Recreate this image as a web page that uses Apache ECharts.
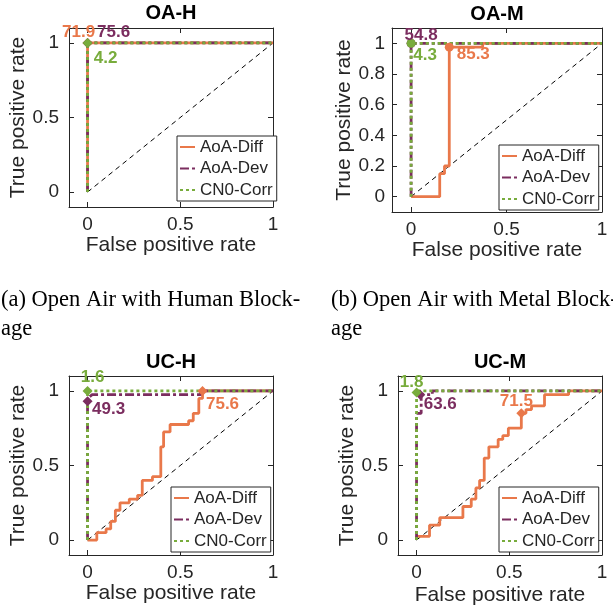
<!DOCTYPE html>
<html><head><meta charset="utf-8">
<script src="https://cdn.jsdelivr.net/npm/echarts@6/dist/echarts.min.js"></script>
<style>html,body{margin:0;padding:0;background:#fff}#c{width:613px;height:611px}</style>
</head><body><div id="c"></div>
<script>
// ---------------- DATA ----------------
const seriesNames = ['AoA-Diff', 'AoA-Dev', 'CN0-Corr'];
const panelTitles = ['OA-H', 'OA-M', 'UC-H', 'UC-M'];
const captionA = ['(a) Open Air with Human Block-', 'age'];
const captionB = ['(b) Open Air with Metal Block-', 'age'];
const xTickValues = [0, 0.5, 1];
const yTickCoarse = [0, 0.5, 1];
const yTickFine = [0, 0.2, 0.4, 0.6, 0.8, 1];
const diagFpr = [0, 1];
const diagTpr = [0, 1];
const xAxisName = 'False positive rate';
const yAxisName = 'True positive rate';

// OA-H
const ohDiffFpr = [0, 0, 1];           const ohDiffTpr = [0, 1, 1];
const ohDevFpr  = [0, 0, 1];           const ohDevTpr  = [0, 1, 1];
const ohCn0Fpr  = [0, 0, 1];           const ohCn0Tpr  = [0, 1, 1];
const ohMarkFpr = [0, 0, 0];           const ohMarkTpr = [1, 1, 1];
const ohMarkText = ['71.9', '75.6', '4.2'];

// OA-M
const omDiffFpr = [0, 0.15, 0.175, 0.2, 0.375, 1];
const omDiffTpr = [0, 0.15, 0.2, 0.975, 1, 1];
const omDevFpr  = [0, 0, 1];           const omDevTpr  = [0, 1, 1];
const omCn0Fpr  = [0, 0, 1];           const omCn0Tpr  = [0, 1, 1];
const omMarkFpr = [0.2, 0, 0];         const omMarkTpr = [0.975, 1, 1];
const omMarkText = ['85.3', '54.8', '4.3'];

// UC-H
const uhDiffFpr = [0, 0.05, 0.1, 0.125, 0.15, 0.175, 0.225, 0.27, 0.295, 0.35, 0.395, 0.41, 0.445, 0.545, 0.57, 0.6, 0.62, 1];
const uhDiffTpr = [0, 0.05, 0.075, 0.125, 0.2, 0.25, 0.275, 0.3, 0.4, 0.425, 0.625, 0.725, 0.775, 0.8, 0.85, 0.95, 1, 1];
const uhDevFpr  = [0, 0, 0.01, 0.025, 0.61, 0.61, 1];
const uhDevTpr  = [0, 0.93, 0.96, 0.975, 0.975, 1, 1];
const uhCn0Fpr  = [0, 0, 1];           const uhCn0Tpr  = [0, 1, 1];
const uhMarkFpr = [0.62, 0, 0];        const uhMarkTpr = [1, 0.93, 1];
const uhMarkText = ['75.6', '49.3', '1.6'];

// UC-M
const umDiffFpr = [0, 0, 0.07, 0.125, 0.25, 0.295, 0.32, 0.34, 0.365, 0.39, 0.44, 0.465, 0.495, 0.565, 0.59, 0.62, 0.69, 0.82, 1];
const umDiffTpr = [0, 0.025, 0.1, 0.15, 0.225, 0.275, 0.35, 0.4, 0.55, 0.625, 0.675, 0.7, 0.75, 0.85, 0.875, 0.9, 0.975, 1, 1];
const umDevFpr  = [0, 0, 0.025, 0.025, 0.085, 0.085, 1];
const umDevTpr  = [0, 0.85, 0.85, 0.975, 0.975, 1, 1];
const umCn0Fpr  = [0, 0, 1];           const umCn0Tpr  = [0, 1, 1];
const umMarkFpr = [0.565, 0.02, 0];    const umMarkTpr = [0.85, 0.975, 0.99];
const umMarkText = ['71.5', '63.6', '1.8'];

// ---------------- LAYOUT / STYLE ----------------
const FONT = 'Liberation Sans';
const TXT = '#262626';
const colors = ['#E9784A', '#7B2D5F', '#78AC3C'];
const lineTypes = ['solid', [9, 3, 3, 3], [3, 3]];

const panels = [
  { grid: {left: 69, top: 28, width: 204, height: 179}, yTicks: yTickCoarse, yNameGap: 36, yLabelMargin: 10, xNameGap: 27,
    legend: {left: 177, top: 136}, titleY: 13, symbol: 'diamond', symSize: 10,
    curves: [[ohDiffFpr, ohDiffTpr], [ohDevFpr, ohDevTpr], [ohCn0Fpr, ohCn0Tpr]],
    marks: [ohMarkFpr, ohMarkTpr, ohMarkText], offsets: [[-9, -11], [26, -11], [18, 15]] },
  { grid: {left: 392, top: 28, width: 210, height: 184}, yTicks: yTickFine, yNameGap: 30, yLabelMargin: 7, xNameGap: 26,
    legend: {left: 499, top: 145}, titleY: 14, symbol: 'circle', symSize: 9,
    curves: [[omDiffFpr, omDiffTpr], [omDevFpr, omDevTpr], [omCn0Fpr, omCn0Tpr]],
    marks: [omMarkFpr, omMarkTpr, omMarkText], offsets: [[24, 7], [10, -8], [14, 12]] },
  { grid: {left: 69, top: 376, width: 204, height: 179}, yTicks: yTickCoarse, yNameGap: 34, yLabelMargin: 10, xNameGap: 27,
    legend: {left: 171, top: 487}, titleY: 362, symbol: 'diamond', symSize: 10,
    curves: [[uhDiffFpr, uhDiffTpr], [uhDevFpr, uhDevTpr], [uhCn0Fpr, uhCn0Tpr]],
    marks: [uhMarkFpr, uhMarkTpr, uhMarkText], offsets: [[20, 13], [21, 8], [5, -14]] },
  { grid: {left: 398, top: 376, width: 204, height: 179}, yTicks: yTickCoarse, yNameGap: 33, yLabelMargin: 10, xNameGap: 30,
    legend: {left: 499, top: 487}, titleY: 362, symbol: 'diamond', symSize: 10,
    curves: [[umDiffFpr, umDiffTpr], [umDevFpr, umDevTpr], [umCn0Fpr, umCn0Tpr]],
    marks: [umMarkFpr, umMarkTpr, umMarkText], offsets: [[-5, -12], [20, 10], [-5, -10]] }
];

const zip = (a, b) => a.map((v, i) => [v, b[i]]);

const grids = [], xAxes = [], yAxes = [], series = [], legends = [], graphics = [];
const axLine = {show: true, onZero: false, lineStyle: {color: TXT, width: 1}};

panels.forEach((p, i) => {
  grids.push(Object.assign({containLabel: false}, p.grid));
  xAxes.push({
    type: 'value', gridIndex: i, min: -0.1, max: 1, position: 'bottom',
    axisLine: axLine, splitLine: {show: false},
    axisTick: {show: true, inside: true, length: 5, lineStyle: {color: TXT}, customValues: xTickValues},
    axisLabel: {show: true, customValues: xTickValues, fontFamily: FONT, fontSize: 19, color: TXT, margin: 8},
    name: xAxisName, nameLocation: 'middle', nameGap: p.xNameGap,
    nameTextStyle: {fontFamily: FONT, fontSize: 21, color: TXT}
  });
  xAxes.push({
    type: 'value', gridIndex: i, min: -0.1, max: 1, position: 'top',
    axisLine: axLine, splitLine: {show: false},
    axisTick: {show: true, inside: true, length: 5, lineStyle: {color: TXT}, customValues: xTickValues},
    axisLabel: {show: false}
  });
  yAxes.push({
    type: 'value', gridIndex: i, min: -0.1, max: 1.1, position: 'left',
    axisLine: axLine, splitLine: {show: false},
    axisTick: {show: true, inside: true, length: 5, lineStyle: {color: TXT}, customValues: p.yTicks},
    axisLabel: {show: true, customValues: p.yTicks, fontFamily: FONT, fontSize: 19, color: TXT, margin: p.yLabelMargin},
    name: yAxisName, nameLocation: 'middle', nameGap: p.yNameGap,
    nameTextStyle: {fontFamily: FONT, fontSize: 21, color: TXT}
  });
  yAxes.push({
    type: 'value', gridIndex: i, min: -0.1, max: 1.1, position: 'right',
    axisLine: axLine, splitLine: {show: false},
    axisTick: {show: true, inside: true, length: 5, lineStyle: {color: TXT}, customValues: p.yTicks},
    axisLabel: {show: false}
  });

  series.push({
    type: 'line', name: 'chance', xAxisIndex: 2 * i, yAxisIndex: 2 * i,
    data: zip(diagFpr, diagTpr), symbol: 'none', silent: true, animation: false,
    lineStyle: {color: '#000', width: 1, type: [5, 4]}, z: 1
  });

  p.curves.forEach((c, k) => {
    const mk = p.marks;
    series.push({
      type: 'line', name: seriesNames[k], xAxisIndex: 2 * i, yAxisIndex: 2 * i,
      data: zip(c[0], c[1]), symbol: 'none', step: k === 0 ? 'end' : false,
      color: colors[k], animation: false, z: 2 + k,
      lineStyle: {color: colors[k], width: 2.8, type: lineTypes[k], cap: 'butt'},
      markPoint: {
        symbol: p.symbol, symbolSize: p.symSize, animation: false,
        itemStyle: {color: colors[k]},
        data: [{
          coord: [mk[0][k], mk[1][k]],
          label: {show: true, formatter: mk[2][k], offset: p.offsets[k], position: 'inside',
                  color: colors[k], fontFamily: FONT, fontWeight: 'bold', fontSize: 17}
        }]
      }
    });
  });

  legends.push({
    left: p.legend.left, top: p.legend.top, orient: 'vertical',
    data: seriesNames, selectedMode: false,
    padding: [2, 4, 2, 2], itemGap: 3.5, itemWidth: 15, itemHeight: 10,
    itemStyle: {opacity: 0},
    borderColor: TXT, borderWidth: 1, borderRadius: 0, backgroundColor: '#fff',
    textStyle: {fontFamily: FONT, fontSize: 17, color: TXT, lineHeight: 18}
  });

  graphics.push({
    type: 'text', x: p.grid.left + p.grid.width / 2, y: p.titleY,
    style: {text: panelTitles[i], font: 'bold 20px "Liberation Sans"', fill: '#000', align: 'center', verticalAlign: 'middle'}
  });
});

const capFont = '22.5px "Liberation Serif"';
[[captionA, 1], [captionB, 331]].forEach(([lines, x]) => {
  lines.forEach((t, j) => {
    graphics.push({type: 'text', x: x, y: 300 + j * 29,
      style: {text: t, font: capFont, fill: '#000', align: 'left', verticalAlign: 'middle'}});
  });
});

const chart = echarts.init(document.getElementById('c'), null, {renderer: 'canvas'});
chart.setOption({
  animation: false,
  backgroundColor: '#fff',
  grid: grids, xAxis: xAxes, yAxis: yAxes,
  legend: legends, series: series, graphic: graphics
});
</script></body></html>
